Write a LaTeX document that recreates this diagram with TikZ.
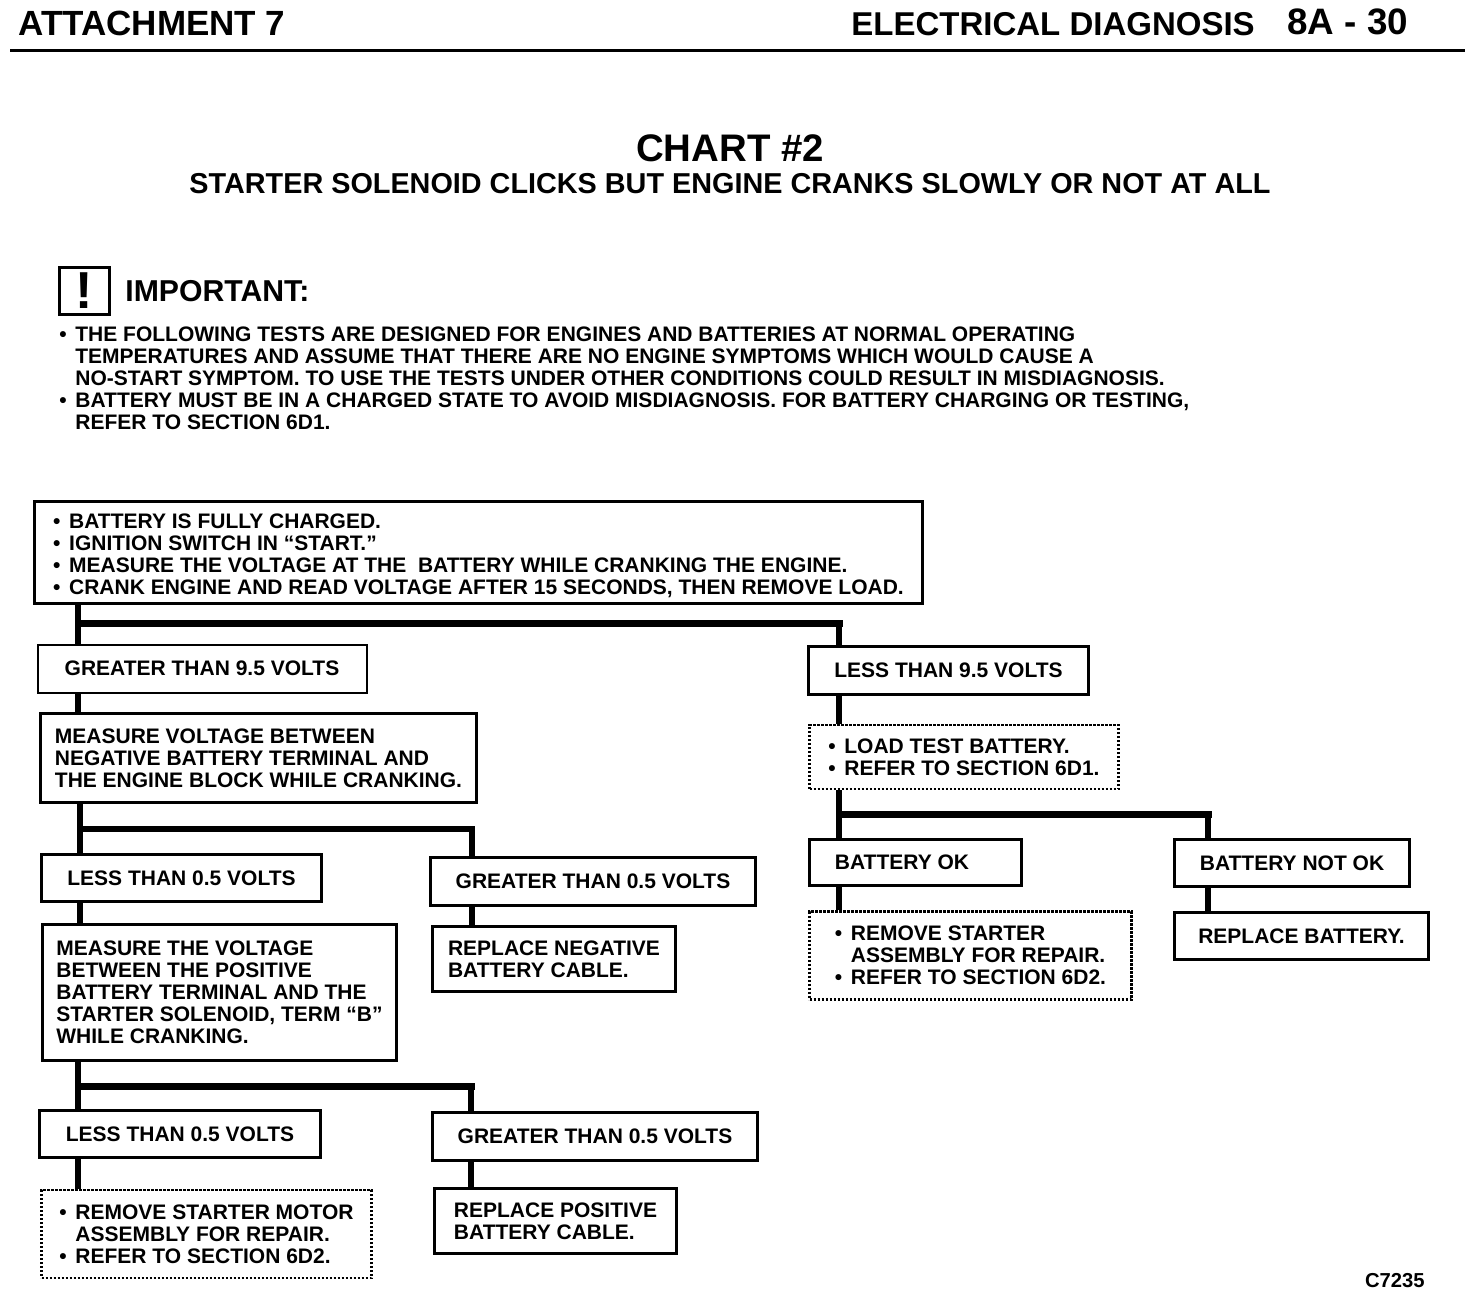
\documentclass[tikz,border=0pt]{standalone}
\usepackage{fontspec}
\setmainfont{Liberation Sans}
\newcommand{\bl}{\makebox[8pt][l]{•}}
\newcommand{\ind}{\hspace*{8pt}}
\tikzset{
  box/.style={draw, line width=1.5pt, inner sep=0pt, align=left, font=\bfseries\fontsize{10.5}{11}\selectfont},
  dotbox/.style={box, line width=1.2pt, dash pattern=on 1.2pt off .8pt},
  sz/.style 2 args={minimum width=#1pt, minimum height=#2pt},
  wire/.style={line width=2.75pt},
  bus/.style={line width=3.5pt, line cap=rect},
  txt/.style={inner sep=0pt, align=left, font=\bfseries\fontsize{10.5}{11}\selectfont}
}
\begin{document}
\begin{tikzpicture}[x=0.5pt, y=-0.5pt]
\useasboundingbox (0,0) rectangle (1472,1294);

\node[anchor=west, inner sep=0pt, font=\bfseries\fontsize{17.5}{18}\selectfont] (att) at (18,23) {ATTACHMENT 7};
\node[anchor=west, inner sep=0pt, font=\bfseries\fontsize{16.5}{18}\selectfont] (sec) at (851,24) {ELECTRICAL DIAGNOSIS};
\node[anchor=west, inner sep=0pt, font=\bfseries\fontsize{18.4}{18}\selectfont] (pg) at (1287,22) {8A - 30};
\coordinate (rulea) at (10,51);
\coordinate (ruleb) at (1465,47);
\draw[line width=1.5pt] (rulea) -- (rulea -| ruleb);

\node[inner sep=0pt, font=\bfseries\fontsize{19.2}{20}\selectfont] (chart) at (730,148) {CHART \#2};
\node[inner sep=0pt, font=\bfseries\fontsize{14.4}{15}\selectfont] (title) at (730,184) {STARTER SOLENOID CLICKS BUT ENGINE CRANKS SLOWLY OR NOT AT ALL};

\node[draw, line width=1.5pt, sz={25}{23.5}, inner sep=0pt, font=\bfseries\fontsize{26}{26}\selectfont] (mark) at (84,291) {!};
\node[anchor=west, inner sep=0pt, font=\bfseries\fontsize{15.1}{15}\selectfont] (imp) at (125,291) {IMPORTANT:};
\node[txt, anchor=north west] (notes) at (59,326) {\bl THE FOLLOWING TESTS ARE DESIGNED FOR ENGINES AND BATTERIES AT NORMAL OPERATING\\
\ind TEMPERATURES AND ASSUME THAT THERE ARE NO ENGINE SYMPTOMS WHICH WOULD CAUSE A\\
\ind NO-START SYMPTOM. TO USE THE TESTS UNDER OTHER CONDITIONS COULD RESULT IN MISDIAGNOSIS.\\
\bl BATTERY MUST BE IN A CHARGED STATE TO AVOID MISDIAGNOSIS. FOR BATTERY CHARGING OR TESTING,\\
\ind REFER TO SECTION 6D1.};

\node[box, sz={444}{51}] (top) at (478.5,552.5) {\rule{0pt}{10.5pt}\bl BATTERY IS FULLY CHARGED.\\
\bl IGNITION SWITCH IN ``START.''\\
\bl MEASURE THE VOLTAGE AT THE\ \ BATTERY WHILE CRANKING THE ENGINE.\\
\bl CRANK ENGINE AND READ VOLTAGE AFTER 15 SECONDS, THEN REMOVE LOAD.};

% left branch
\node[box, line width=1pt, sz={164.5}{24}, below of=top, node distance=58pt, xshift=-138.25pt] (gta) {GREATER THAN 9.5 VOLTS};
\node[box, sz={218}{44.5}, below of=gta, node distance=44.75pt, xshift=28.25pt] (ma) {MEASURE VOLTAGE BETWEEN\\NEGATIVE BATTERY TERMINAL AND\\THE ENGINE BLOCK WHILE CRANKING.};
\node[box, sz={140}{23.5}, below of=ma, node distance=60pt, xshift=-38.5pt] (ltb) {LESS THAN 0.5 VOLTS};
\node[box, sz={162.5}{24}, right of=ltb, node distance=205.75pt, yshift=-1.75pt] (gtb) {GREATER THAN 0.5 VOLTS};
\node[box, sz={121.5}{32.5}, below of=gtb, node distance=38.75pt, xshift=-19.5pt] (rneg) {REPLACE NEGATIVE\\BATTERY CABLE.};
\node[box, sz={177}{68}, below of=ltb, node distance=57.25pt, xshift=19pt] (mb) {MEASURE THE VOLTAGE\\BETWEEN THE POSITIVE\\BATTERY TERMINAL AND THE\\STARTER SOLENOID, TERM ``B''\\WHILE CRANKING.};
\node[box, sz={140.5}{23.5}, below of=mb, node distance=70.75pt, xshift=-19.75pt] (ltc) {LESS THAN 0.5 VOLTS};
\node[box, sz={162.5}{24}, right of=ltc, node distance=207.5pt, yshift=-1.25pt] (gtc) {GREATER THAN 0.5 VOLTS};
\node[box, sz={121}{32.5}, below of=gtc, node distance=42.25pt, xshift=-19.75pt] (rpos) {REPLACE POSITIVE\\BATTERY CABLE.};
\node[dotbox, sz={165}{44}, below of=ltc, node distance=50pt, xshift=13.25pt] (rmot) {\bl REMOVE STARTER MOTOR\\\ind ASSEMBLY FOR REPAIR.\\\bl REFER TO SECTION 6D2.};

% right branch
\node[box, sz={140}{24}, right of=gta, node distance=373.25pt, yshift=-1pt] (ltv) {LESS THAN 9.5 VOLTS};
\node[dotbox, sz={154.5}{32}, below of=ltv, node distance=43.25pt, xshift=7.75pt] (load) {\bl LOAD TEST BATTERY.\\\bl REFER TO SECTION 6D1.};
\node[box, sz={106}{23}, below of=load, node distance=52.75pt, xshift=-24.25pt] (ok) {BATTERY OK\hspace*{13.5pt}};
\node[box, sz={117.5}{23.5}, right of=ok, node distance=188.25pt, yshift=-.25pt] (nok) {BATTERY NOT OK};
\node[dotbox, sz={161}{44}, below of=ok, node distance=46.5pt, xshift=27.5pt] (rsta) {\bl REMOVE STARTER\\\ind ASSEMBLY FOR REPAIR.\\\bl REFER TO SECTION 6D2.};
\node[box, sz={127}{23.5}, below of=nok, node distance=36.5pt, xshift=4.75pt] (rbat) {REPLACE BATTERY.};

\node[anchor=east, inner sep=0pt, font=\bfseries\fontsize{10.1}{10}\selectfont] (code) at (1425,1281) {C7235};

\coordinate (ja) at (78,623);
\coordinate (jb) at (839,623);
\coordinate (jc) at (80,829);
\coordinate (jd) at (472,829);
\coordinate (je) at (78,1086);
\coordinate (jf) at (471,1086);
\coordinate (jg) at (839,814);
\coordinate (jh) at (1208,814);

\draw[wire] (top.south -| ja) -- (gta.north -| ja);
\draw[bus] (ja) -- (jb);
\draw[wire] (jb) -- (ltv.north -| jb);
\draw[wire] (gta.south -| ja) -- (ma.north -| ja);
\draw[wire] (ma.south -| jc) -- (ltb.north -| jc);
\draw[wire] (jc) -- (jd) -- (gtb.north -| jd);
\draw[wire] (ltb.south -| jc) -- (mb.north -| jc);
\draw[wire] (gtb.south -| jd) -- (rneg.north -| jd);
\draw[wire] (mb.south -| je) -- (ltc.north -| je);
\draw[bus] (je) -- (jf);
\draw[wire] (jf) -- (gtc.north -| jf);
\draw[wire] (ltc.south -| je) -- (rmot.north -| je);
\draw[wire] (gtc.south -| jf) -- (rpos.north -| jf);
\draw[wire] (ltv.south -| jg) -- (load.north -| jg);
\draw[wire] (load.south -| jg) -- (ok.north -| jg);
\draw[bus] (jg) -- (jh);
\draw[wire] (jh) -- (nok.north -| jh);
\draw[wire] (ok.south -| jg) -- (rsta.north -| jg);
\draw[wire] (nok.south -| jh) -- (rbat.north -| jh);
\end{tikzpicture}
\end{document}
